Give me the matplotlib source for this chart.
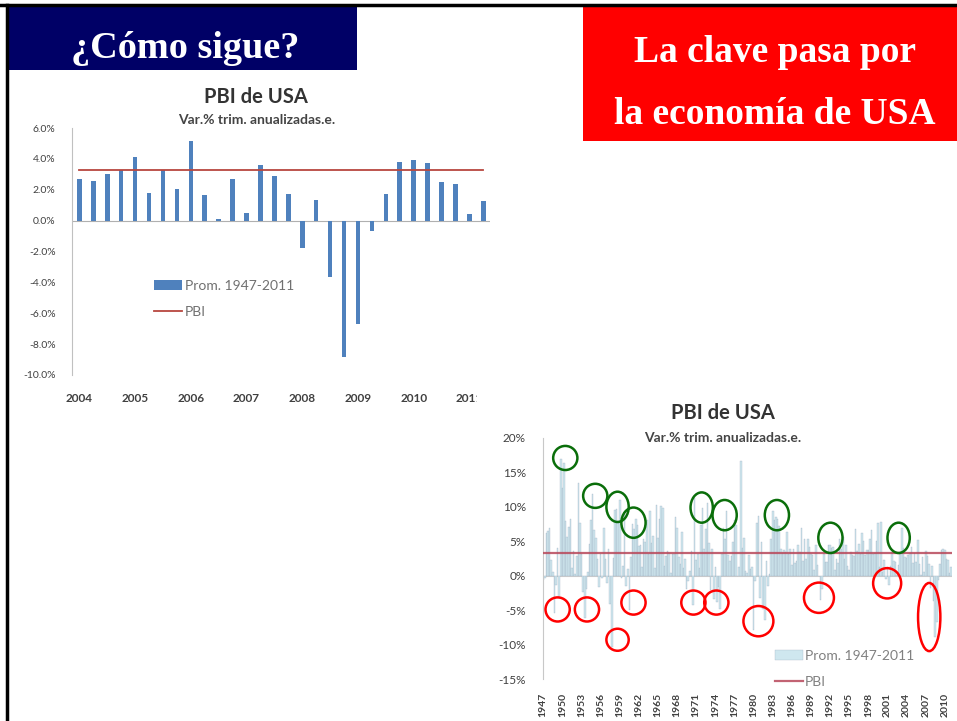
import numpy as np
import matplotlib
matplotlib.use('Agg')
from matplotlib import pyplot as plt
from matplotlib.patches import Ellipse, Rectangle
from matplotlib.lines import Line2D

W, H = 957, 721

# ---------------- data ----------------
# chart 1: quarterly GDP growth 2004Q1 - 2011Q2 (annualized, %)
recent_years = ['2004', '2005', '2006', '2007', '2008', '2009', '2010', '2011']
recent_gdp = [2.7, 2.55, 3.0, 3.25, 4.15, 1.8, 3.25, 2.05,
              5.15, 1.65, 0.1, 2.7, 0.5, 3.6, 2.9, 1.7,
              -1.75, 1.35, -3.65, -8.85, -6.7, -0.65, 1.7, 3.8,
              3.95, 3.75, 2.5, 2.35, 0.4, 1.25]

# chart 2: quarterly GDP growth 1947Q2 - 2011Q2 (annualized, %)
hist_gdp = [
    -0.6, -0.3, 6.2,                 # 1947 (Q2-Q4)
    6.5, 7.0, 2.3, 0.5,              # 1948
    -5.4, -1.4, 4.0, -3.3,           # 1949
    16.9, 12.7, 16.4, 7.9,           # 1950
    5.6, 7.1, 8.2, 1.1,              # 1951
    3.6, 0.3, 2.8, 13.4,             # 1952
    7.7, 3.1, -2.4, -6.2,            # 1953
    -1.9, 0.5, 4.6, 8.1,             # 1954
    11.9, 6.7, 5.5, 2.4,             # 1955
    -1.6, 3.2, -0.4, 6.9,            # 1956
    2.5, -1.0, 3.9, -4.1,            # 1957
    -10.4, 2.6, 9.6, 9.7,            # 1958
    7.9, 11.0, -0.3, 1.4,            # 1959
    9.2, -1.5, 1.0, -5.0,            # 1960
    2.7, 7.5, 6.8, 8.3,              # 1961
    7.4, 4.3, 4.5, 1.3,              # 1962
    5.3, 4.9, 8.1, 3.2,              # 1963
    9.4, 4.8, 5.7, 1.1,              # 1964
    10.2, 5.5, 8.3, 10.1,            # 1965
    9.9, 1.4, 2.8, 3.6,              # 1966
    3.3, 0.4, 3.2, 3.2,              # 1967
    8.5, 7.0, 2.7, 1.7,              # 1968
    6.3, 1.1, 2.4, -1.9,             # 1969
    -0.7, 0.7, 3.6, -4.2,            # 1970
    11.3, 2.3, 3.1, 1.1,             # 1971
    7.3, 9.8, 3.9, 6.8,              # 1972
    10.6, 4.7, -2.1, 3.9,            # 1973
    -3.4, 1.2, -3.8, -1.6,           # 1974
    -4.8, 3.1, 6.9, 5.3,             # 1975
    9.4, 3.0, 2.2, 2.9,              # 1976
    4.9, 8.1, 7.4, 0.0,              # 1977
    1.3, 16.7, 4.0, 5.5,             # 1978
    0.7, 0.4, 3.0, 1.0,              # 1979
    1.3, -7.9, -0.7, 7.6,            # 1980
    8.6, -3.2, 4.9, -4.9,            # 1981
    -6.4, 2.2, -1.5, 0.3,            # 1982
    5.4, 9.4, 8.1, 8.5,              # 1983
    8.2, 7.2, 3.9, 3.3,              # 1984
    3.8, 3.4, 6.4, 3.1,              # 1985
    3.9, 1.6, 3.9, 1.9,              # 1986
    2.2, 4.5, 3.5, 7.0,              # 1987
    2.1, 5.4, 2.4, 5.4,              # 1988
    4.1, 3.1, 3.0, 0.8,              # 1989
    4.4, 1.5, 0.0, -3.5,             # 1990
    -1.9, 3.1, 2.0, 2.0,             # 1991
    4.4, 4.4, 4.0, 4.2,              # 1992
    0.8, 2.5, 1.9, 5.4,              # 1993
    3.9, 5.6, 2.4, 4.5,              # 1994
    1.4, 0.9, 3.5, 3.0,              # 1995
    2.9, 6.8, 3.6, 4.6,              # 1996
    3.1, 6.2, 5.1, 3.0,              # 1997
    3.8, 3.7, 5.4, 6.6,              # 1998
    3.2, 3.3, 5.1, 7.6,              # 1999
    1.2, 7.8, 0.5, 2.3,              # 2000
    -0.5, 1.2, -1.4, 1.4,            # 2001
    3.5, 2.1, 2.0, 0.1,              # 2002
    1.6, 3.2, 6.9, 4.0,              # 2003
    2.7, 2.55, 3.0, 3.25,            # 2004
    4.15, 1.8, 3.25, 2.05,           # 2005
    5.15, 1.65, 0.1, 2.7,            # 2006
    0.5, 3.6, 2.9, 1.7,              # 2007
    -1.75, 1.35, -3.65, -8.85,       # 2008
    -6.7, -0.65, 1.7, 3.8,           # 2009
    3.95, 3.75, 2.5, 2.35,           # 2010
    0.4, 1.25,                       # 2011 (Q1-Q2)
]
hist_years = [str(y) for y in range(1947, 2011, 3)]

# long run average 1947-2011
PROM = 3.3

# circled episodes on chart 2: (year, %) and size (years, %)
green_marks = [(1950.7, 17.1, 3.8, 3.5), (1955.4, 11.6, 3.8, 3.5),
               (1958.9, 10.0, 3.5, 4.4), (1961.4, 7.7, 3.8, 4.4),
               (1972.1, 9.9, 3.5, 4.4), (1975.7, 8.8, 3.8, 4.4),
               (1983.9, 8.8, 3.8, 4.4), (1992.3, 5.5, 3.8, 4.4),
               (2003.0, 5.5, 3.5, 4.4)]
red_marks = [(1949.5, -4.9, 3.8, 3.5), (1954.1, -4.9, 3.8, 3.5),
             (1958.9, -9.3, 3.5, 3.2), (1961.4, -3.9, 3.8, 3.5),
             (1970.8, -3.9, 3.8, 3.5), (1974.4, -3.9, 3.8, 3.5),
             (1981.0, -6.6, 4.7, 4.4), (1990.5, -3.2, 4.7, 4.4),
             (2001.2, -1.1, 4.4, 4.4), (2007.8, -6.0, 3.5, 9.9)]


def px_rect(x0, y0, x1, y1):
    return [x0 / W, 1 - y1 / H, (x1 - x0) / W, (y1 - y0) / H]


SANS = ['Lato', 'DejaVu Sans']
SERIF = ['Liberation Serif', 'DejaVu Serif']
BAR_BLUE = '#4f81bd'
LINE_RED = '#b8473f'

fig = plt.figure(figsize=(W / 100, H / 100), dpi=100)

# ---------------- slide frame and headers ----------------
fig.add_artist(Line2D([0, 1], [1 - 5 / H] * 2, transform=fig.transFigure, color='black', lw=2.5))
fig.add_artist(Line2D([6.5 / W] * 2, [0, 1 - 5 / H], transform=fig.transFigure, color='black', lw=2.5))
fig.add_artist(Rectangle((7 / W, 1 - 70 / H), 350 / W, 63 / H, transform=fig.transFigure,
                         facecolor='#000066', edgecolor='none'))
fig.add_artist(Rectangle((583 / W, 1 - 141 / H), 374 / W, 134 / H, transform=fig.transFigure,
                         facecolor='#ff0000', edgecolor='none'))
fig.text(185 / W, 1 - 48 / H, '¿Cómo sigue?', color='white', fontsize=27.5, fontweight='bold',
         family=SERIF, ha='center', va='center')
fig.text(775 / W, 1 - 53 / H, 'La clave pasa por', color='white', fontsize=27, fontweight='bold',
         family=SERIF, ha='center', va='center')
fig.text(775 / W, 1 - 115 / H, 'la economía de USA', color='white', fontsize=27, fontweight='bold',
         family=SERIF, ha='center', va='center')

# ---------------- chart 1: 2004-2011 ----------------
ax1 = fig.add_axes(px_rect(72.4, 128, 490.3, 375))
x1 = np.arange(len(recent_gdp))
ax1.axhline(0, color='#b0b0b0', lw=0.8, zorder=1)
bars1 = ax1.bar(x1, recent_gdp, width=0.33, color=BAR_BLUE, zorder=2)
line1, = ax1.plot(x1, [PROM] * len(x1), color=LINE_RED, lw=1.3, zorder=3)
ax1.set_xlim(-0.5, len(x1) - 0.5)
ax1.set_ylim(-10, 6)
for s in ['top', 'right', 'bottom']:
    ax1.spines[s].set_visible(False)
ax1.spines['left'].set_color('#c0c0c0')
yt1 = np.arange(-10, 7, 2)
ax1.set_yticks(yt1)
ax1.set_yticklabels([f'{v:.1f}%' for v in yt1], fontsize=7.5, color='#404040', family=SANS)
ax1.set_xticks(x1[::4])
ax1.set_xticklabels(recent_years, fontsize=8.5, color='#404040', family=SANS, fontweight='bold')
ax1.tick_params(length=0, axis='y', pad=12)
ax1.tick_params(length=0, axis='x', pad=13)
ax1.legend([bars1, line1], ['Prom. 1947-2011', 'PBI'], loc='upper left',
           bbox_to_anchor=(147 / W, 1 - 273 / H), bbox_transform=fig.transFigure,
           frameon=False, borderpad=0, handlelength=2.0, handletextpad=0.25, labelspacing=1.0,
           prop={'family': SANS, 'size': 10}, labelcolor='#707070')
fig.text(256 / W, 1 - 97 / H, 'PBI de USA', fontsize=14.5, fontweight='bold', family=SANS,
         color='#333333', ha='center', va='center')
fig.text(257 / W, 1 - 120 / H, 'Var.% trim. anualizadas.e.', fontsize=10, fontweight='bold',
         family=SANS, color='#444444', ha='center', va='center')
# the pasted chart image is cropped on the right, cutting the last year label
fig.add_artist(Rectangle((477 / W, 1 - 408 / H), 60 / W, 25 / H, transform=fig.transFigure,
                         facecolor='white', edgecolor='none', zorder=10))

# ---------------- chart 2: 1947-2011 ----------------
ax2 = fig.add_axes(px_rect(542.5, 438, 952, 679))
x2 = np.arange(len(hist_gdp))
ax2.axhline(0, color='#d0d0d0', lw=0.8, zorder=1)
bars2 = ax2.bar(x2, hist_gdp, width=1.0, color='#cfe7ef', edgecolor='#97a8ba', linewidth=0.2,
                zorder=2)
line2, = ax2.plot(x2, [PROM] * len(x2), color='#b8485a', lw=1.6, alpha=0.85, zorder=3)
ax2.set_xlim(-0.5, len(x2) - 0.5)
ax2.set_ylim(-15, 20)
for s in ['top', 'right', 'bottom']:
    ax2.spines[s].set_visible(False)
ax2.spines['left'].set_color('#c8c8c8')
yt2 = np.arange(-15, 21, 5)
ax2.set_yticks(yt2)
ax2.set_yticklabels([f'{v}%' for v in yt2], fontsize=8.5, color='#404040', family=SANS)
ax2.set_xticks(x2[::12])
ax2.set_xticklabels(hist_years, fontsize=7.5, color='#404040', family=SANS, fontweight='bold',
                    rotation=90)
ax2.tick_params(length=0, axis='y', pad=12)
ax2.tick_params(length=0, axis='x', pad=10)


def year_to_x(year):
    return (year - 1947.25) * 4


for yr, v, w, h in green_marks:
    ax2.add_patch(Ellipse((year_to_x(yr), v), w * 4, h, fill=False, edgecolor='#0a6e0a',
                          lw=1.8, zorder=5, clip_on=False))
for yr, v, w, h in red_marks:
    ax2.add_patch(Ellipse((year_to_x(yr), v), w * 4, h, fill=False, edgecolor='#ff0000',
                          lw=1.8, zorder=5, clip_on=False))

ax2.legend([bars2, line2], ['Prom. 1947-2011', 'PBI'], loc='upper left',
           bbox_to_anchor=(768 / W, 1 - 643 / H), bbox_transform=fig.transFigure,
           frameon=False, borderpad=0, handlelength=2.0, handletextpad=0.15, labelspacing=1.0,
           prop={'family': SANS, 'size': 10}, labelcolor='#808080')
fig.text(723 / W, 1 - 413 / H, 'PBI de USA', fontsize=14.5, fontweight='bold', family=SANS,
         color='#333333', ha='center', va='center')
fig.text(723 / W, 1 - 438 / H, 'Var.% trim. anualizadas.e.', fontsize=10, fontweight='bold',
         family=SANS, color='#444444', ha='center', va='center')

fig.savefig('out.png', dpi=100)
